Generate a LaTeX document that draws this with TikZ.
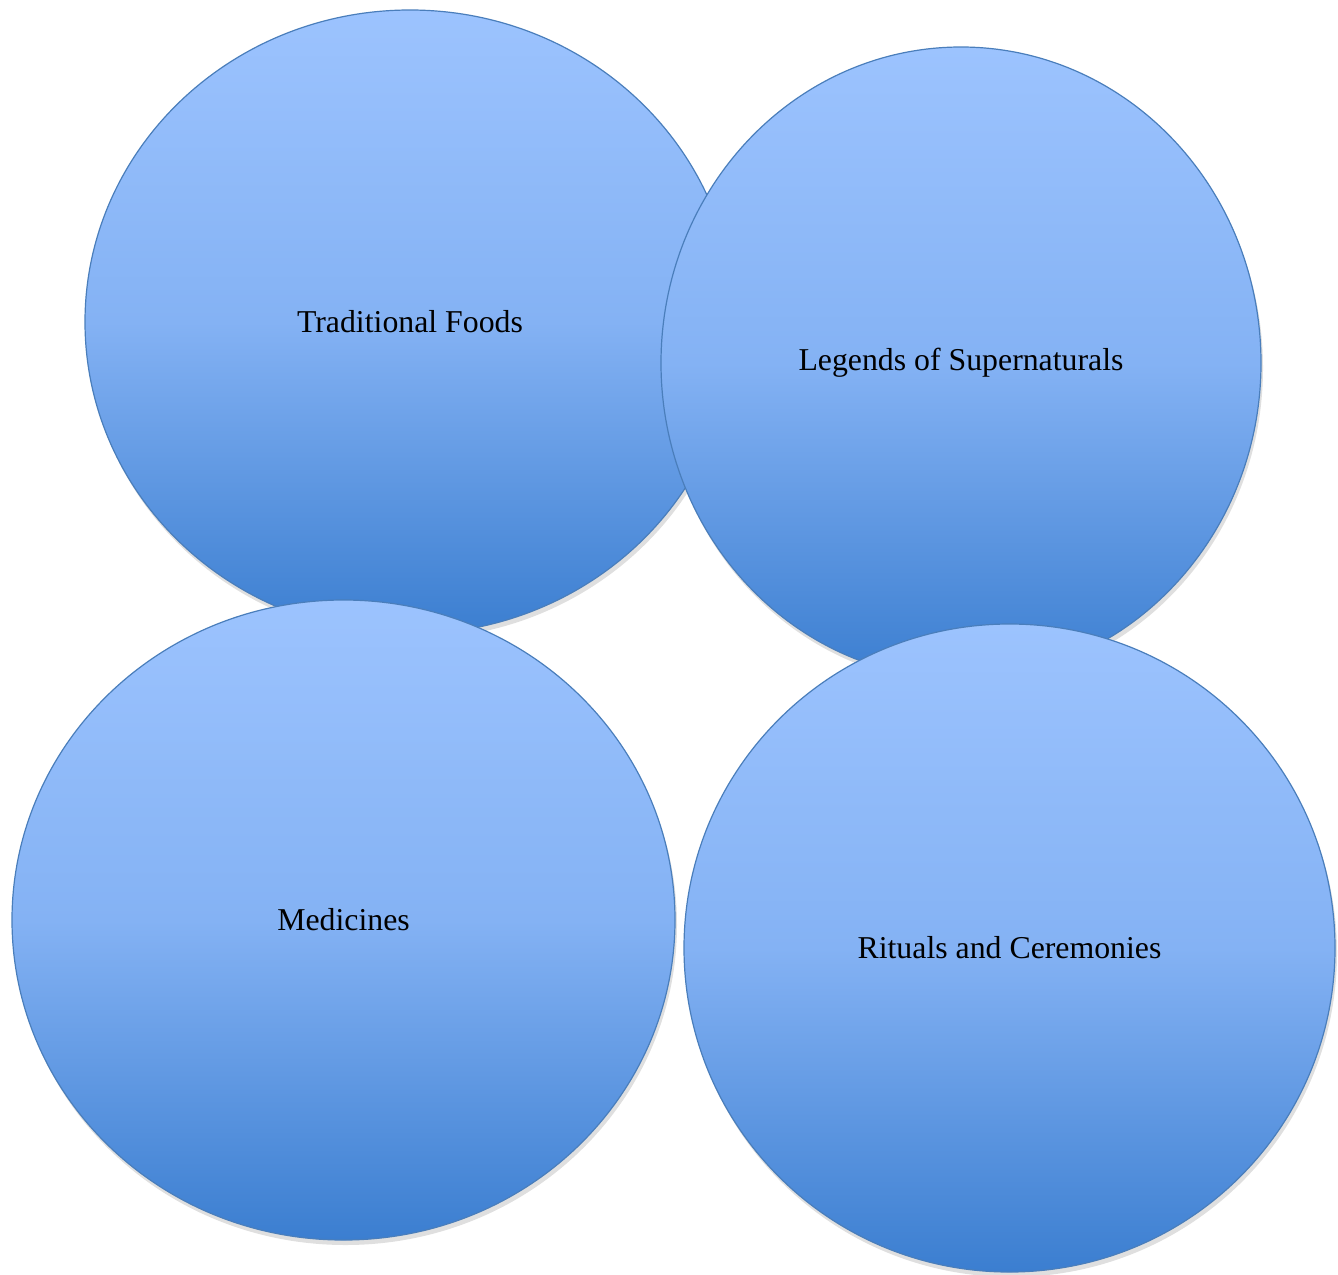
\documentclass[tikz,border=0pt]{standalone}
\usepackage{fontspec}
\setmainfont{Liberation Serif}
\usetikzlibrary{shapes.geometric,shadows}

\definecolor{topblue}{HTML}{9CC3FE}
\definecolor{midblue}{HTML}{84B2F4}
\definecolor{botblue}{HTML}{3B7ED0}
\definecolor{rimblue}{HTML}{4A7EBB}

\tikzset{
  bubble/.style={draw=rimblue, line width=1.2pt, ellipse, inner sep=0pt,
    top color=topblue, bottom color=botblue, middle color=midblue,
    drop shadow={opacity=0.25, shadow xshift=2pt, shadow yshift=-5pt},
    font=\fontsize{31.8}{38}\selectfont}
}

\begin{document}
\begin{tikzpicture}[x=1pt,y=-1pt]
\useasboundingbox (0,0) rectangle (1338,1274);
\node[bubble, minimum width=650, minimum height=624] (foods) at (410,322) {Traditional Foods};
\node[bubble, minimum width=600, minimum height=632] (legends) at (961,363) {Legends of Supernaturals};
\node[bubble, minimum width=663, minimum height=640] (medicines) at (343.5,920) {Medicines};
\node[bubble, minimum width=651, minimum height=648] (rituals) at (1009.5,948) {Rituals and Ceremonies};
\end{tikzpicture}
\end{document}
